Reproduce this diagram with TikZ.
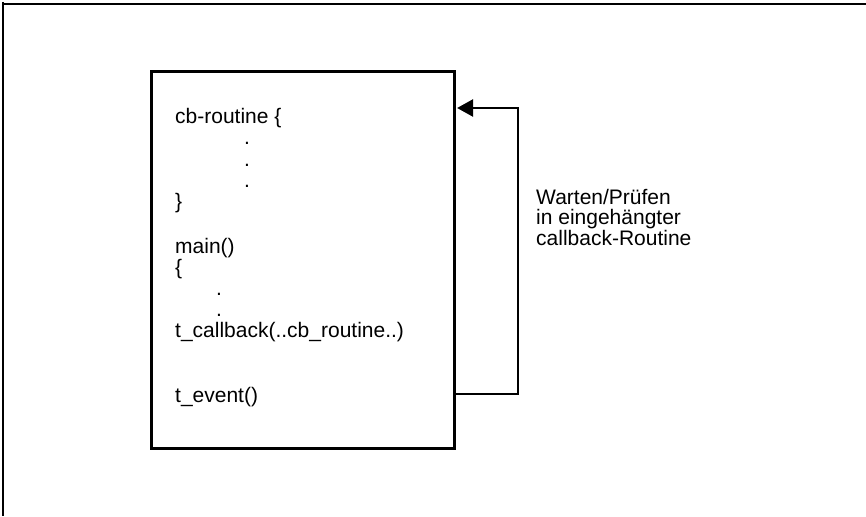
\documentclass[tikz,border=0pt]{standalone}
\usepackage{fontspec}
\setmainfont{Liberation Sans}
\usetikzlibrary{arrows.meta}
\begin{document}
\begin{tikzpicture}[x=1pt,y=-1pt,
  frameline/.style={line width=2pt},
  codebox/.style={draw,line width=2.6pt,minimum width=303pt,minimum height=377pt,inner sep=0pt,anchor=north west},
  code/.style={anchor=base west,inner sep=0pt,font=\fontsize{21}{21}\selectfont},
  note/.style={anchor=base west,inner sep=0pt,font=\fontsize{21}{21}\selectfont},
  flow/.style={line width=2.6pt,-{Triangle[length=16pt,width=17pt]},shorten >=1.5pt}]
\useasboundingbox (0,0) rectangle (866,516);
% outer frame (top and left edges)
\draw[frameline] (3,2) -- (3,516);
\draw[frameline] (2,4) -- (866,4);
% program box
\node[codebox] (box) at (150,70) {};
% callback routine
\node[code] (cbhead) at (175,123) {cb-routine \{};
\node[code] (cbdot1) at (244,144.5) {.};
\node[code] (cbdot2) at (244,166) {.};
\node[code] (cbdot3) at (244,187.5) {.};
\node[code] (cbend) at (175,208) {\}};
% main program
\node[code] (mainhead) at (175,253) {main()};
\node[code] (mainopen) at (175,274) {\{};
\node[code] (maindot1) at (216,295) {.};
\node[code] (maindot2) at (216,316) {.};
\node[code] (tcallback) at (175,337) {t\_callback(..cb\_routine..)};
\node[code] (tevent) at (175,402) {t\_event()};
% loop back into the callback routine
\coordinate (loopB) at (518,394);
\coordinate (loopT) at (518,108);
\draw[flow] (box.east |- loopB) -- (loopB) -- (loopT) -- (box.east |- loopT);
\node[note] (note1) at (536,204) {Warten/Prüfen};
\node[note] (note2) at (536,224.5) {in eingehängter};
\node[note] (note3) at (536,245) {callback-Routine};
\end{tikzpicture}
\end{document}
